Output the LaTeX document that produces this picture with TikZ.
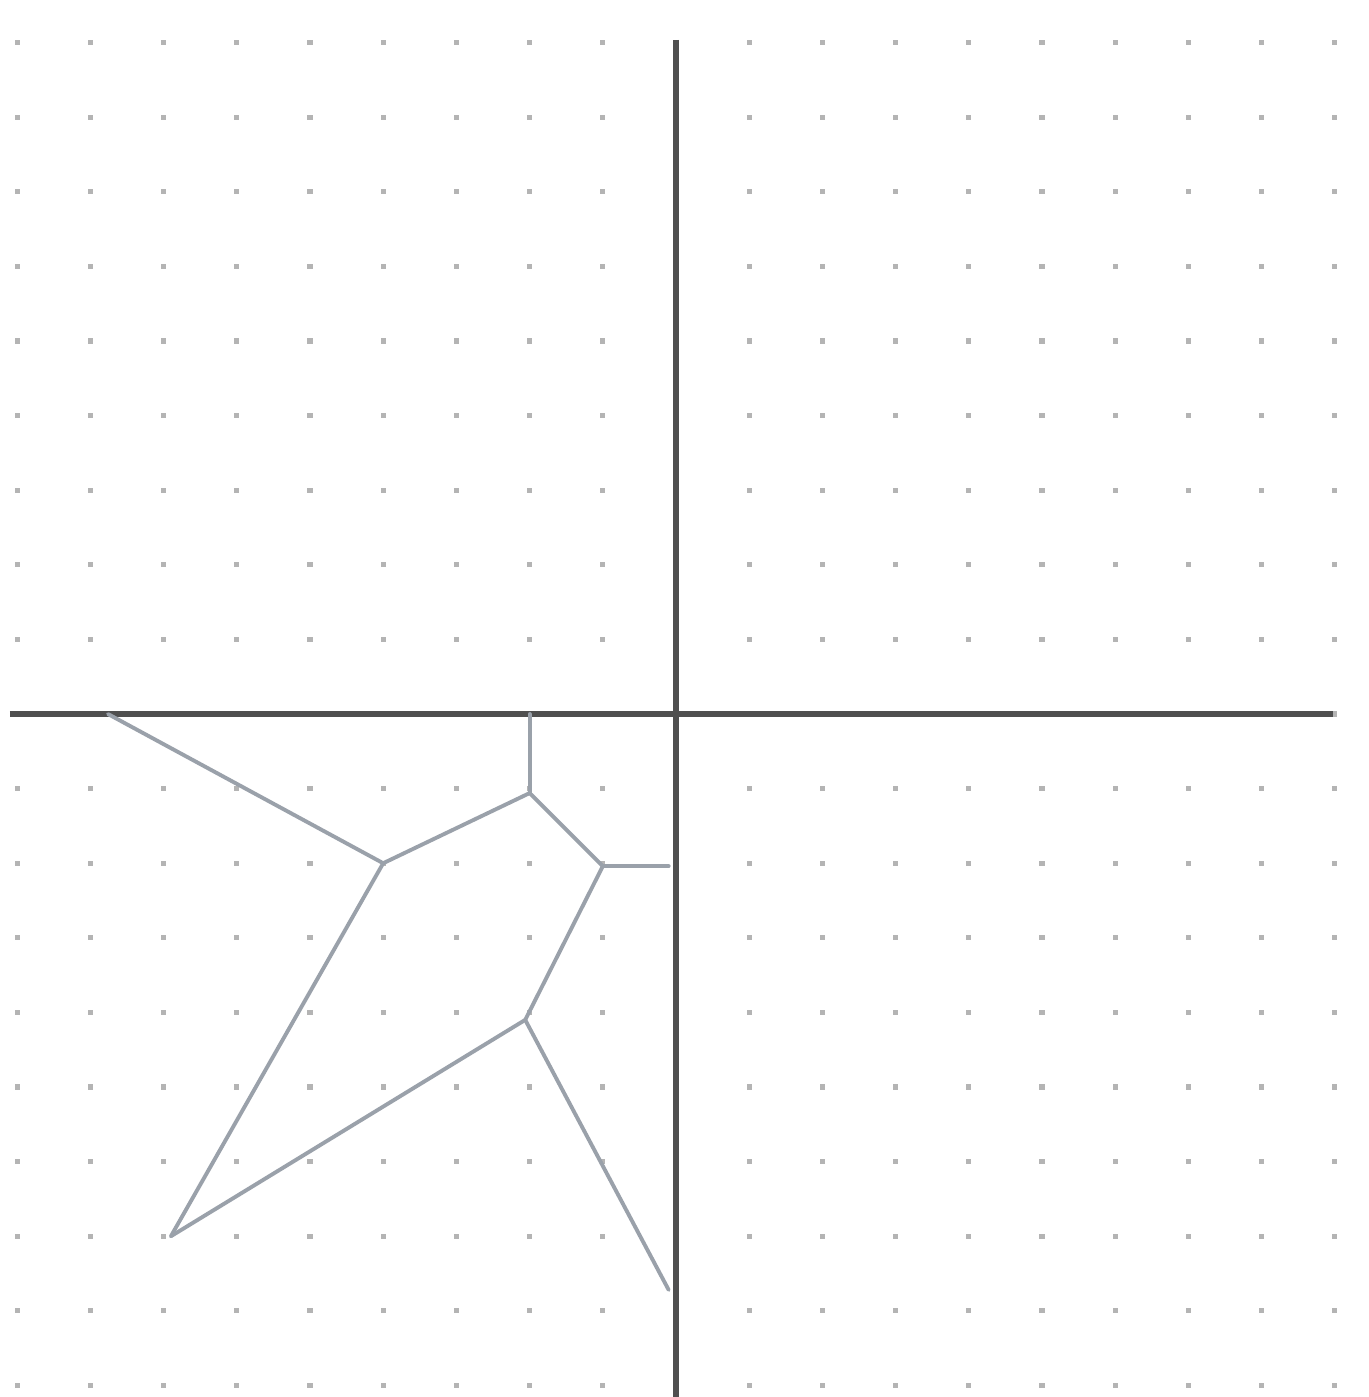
\documentclass[tikz,border=0pt]{standalone}
\usepackage{tikz}
\usepackage{xcolor}
\definecolor{GridDot}{HTML}{B4B4B4}
\definecolor{AxisDark}{HTML}{4F4F4F}
\definecolor{EdgeGray}{HTML}{9AA1AA}

\begin{document}
\begin{tikzpicture}[x=0.732cm,y=0.746cm,
  edge/.style={EdgeGray,line width=1.1pt,line join=round,line cap=round},
  axisline/.style={AxisDark,line width=1.7pt}]
  \useasboundingbox (-9.235,-9.155) rectangle (9.454,9.571);
  \fill[white] (-9.235,-9.155) rectangle (9.454,9.571);
  % dot grid
  \foreach \x in {-9,...,9}{
    \foreach \y in {-9,...,9}{
      \fill[GridDot] (\x-0.035,\y-0.035) rectangle (\x+0.035,\y+0.035);
    }
  }
  % axes
  \draw[axisline] (-9.1,0)--(8.98,0);
  \draw[axisline] (0,9.035)--(0,-9.155);
  % vertices
  \coordinate (a) at (-7.76,0);
  \coordinate (b) at (-4,-2);
  \coordinate (c) at (-2,0);
  \coordinate (d) at (-2,-1.06);
  \coordinate (e) at (-1,-2.04);
  \coordinate (f) at (-0.1,-2.04);
  \coordinate (g) at (-2.06,-4.1);
  \coordinate (h) at (-6.9,-7);
  \coordinate (i) at (-0.1,-7.72);
  % edges
  \draw[edge] (a)--(b);
  \draw[edge] (c)--(d);
  \draw[edge] (b)--(d);
  \draw[edge] (d)--(e);
  \draw[edge] (e)--(f);
  \draw[edge] (e)--(g);
  \draw[edge] (b)--(h);
  \draw[edge] (h)--(g);
  \draw[edge] (g)--(i);
\end{tikzpicture}
\end{document}
